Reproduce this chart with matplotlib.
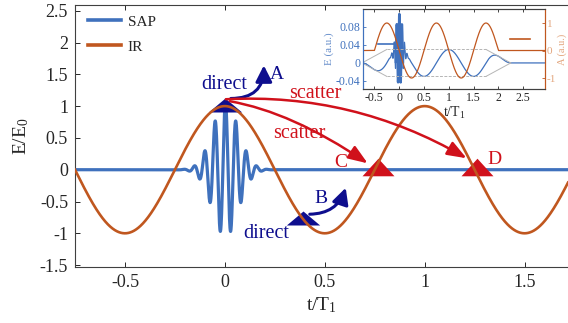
import numpy as np
import matplotlib
matplotlib.use('Agg')
import matplotlib.pyplot as plt
from matplotlib.patches import FancyArrowPatch, ArrowStyle
from matplotlib.ticker import FuncFormatter, FixedLocator

plt.rcParams['font.family'] = ['Liberation Serif', 'DejaVu Serif']
plt.rcParams['mathtext.fontset'] = 'custom'
plt.rcParams['mathtext.rm'] = 'Liberation Serif'
plt.rcParams['mathtext.it'] = 'Liberation Serif:italic'
plt.rcParams['axes.unicode_minus'] = False

# ---------------- data ----------------
series_labels = ['SAP', 'IR']
main_xlim = [-0.75, 1.7175]
main_ylim = [-1.53, 2.59]
main_xticks = [-0.5, 0, 0.5, 1, 1.5]
main_yticks = [-1.5, -1, -0.5, 0, 0.5, 1, 1.5, 2, 2.5]

# IR field (cosine, in units of E0, time in T1)
ir_amplitude = 1.0
ir_period = 1.0
# SAP pulse parameters
sap_amplitude = 1.05
sap_center = 0.003
sap_width = 0.092
sap_carrier_period = 0.052

# trajectory markers
direct_marker_t = [0.0, 0.39]
direct_marker_e = [1.02, -0.765]
scatter_marker_t = [0.765, 1.26]
scatter_marker_e = [0.04, 0.04]

# text labels
label_texts = ['direct', 'A', 'direct', 'B', 'scatter', 'scatter', 'C', 'D']
label_t = [-0.005, 0.258, 0.2075, 0.48, 0.4525, 0.375, 0.58, 1.35]
label_e = [1.266, 1.42, -1.077, -0.52, 1.12, 0.495, 0.05, 0.086]
label_kind = ['direct', 'direct', 'direct', 'direct', 'scatter', 'scatter', 'scatter', 'scatter']

# arrows (start -> end, connection)
arrow_start_t = [0.03, 0.425, 0.025, 0.005]
arrow_start_e = [1.12, -0.70, 1.077, 1.108]
arrow_end_t = [0.195, 0.605, 0.715, 1.21]
arrow_end_e = [1.64, -0.285, 0.10, 0.18]
arrow_connection = ['arc3,rad=0.5', 'arc3,rad=0.35',
                    'angle3,angleA=-10,angleB=-34', 'angle3,angleA=3,angleB=-30']
arrow_kind = ['direct', 'direct', 'scatter', 'scatter']

# inset
inset_xlim = [-0.73, 2.94]
inset_e_ylim = [-0.058, 0.12]
inset_a_ylim = [-1.4, 1.51]
inset_xticks = [-0.5, 0, 0.5, 1, 1.5, 2, 2.5]
inset_e_ticks = [-0.04, 0, 0.04, 0.08]
inset_a_ticks = [-1, 0, 1]
env_t = [-0.75, -0.25, 1.75, 2.25]
env_v = [0.0, 1.0, 1.0, 0.0]
inset_ir_e_scale = 0.03
inset_sap_scale = 0.075
inset_sap_halfspan = 0.07
a_field_start = -0.5
a_field_end = 2.0
a_field_amplitude = 1.0
inset_key_blue_x = [0.082, 0.176]
inset_key_blue_y = [0.5625, 0.5625]
inset_key_orange_x = [0.808, 0.918]
inset_key_orange_y = [0.625, 0.625]

# ---------------- styles ----------------
C_SAP = '#3F71BD'
C_IR = '#C0571F'
C_RED = '#D0111B'
C_NAVY = '#0E0E8E'
C_TXT = '#262626'
C_A_PALE = '#E3A67E'
kind_color = {'direct': C_NAVY, 'scatter': C_RED}


def fmt(v, pos=None):
    return '%g' % v


def sap(t):
    return sap_amplitude * np.exp(-((t - sap_center) / sap_width) ** 2) * \
        np.cos(2 * np.pi * (t - sap_center) / sap_carrier_period)


def ir(t):
    return ir_amplitude * np.cos(2 * np.pi * t / ir_period)


fig = plt.figure(figsize=(5.68, 3.23), dpi=100)
W, H = 568.0, 323.0
ax = fig.add_axes([75 / W, 1 - 267 / H, 1 - 75 / W, 262 / H])

t = np.linspace(main_xlim[0], main_xlim[1], 6000)
l_sap, = ax.plot(t, sap(t), color=C_SAP, lw=2.3, zorder=2, solid_joinstyle='round')
l_ir, = ax.plot(t, ir(t), color=C_IR, lw=1.9, zorder=4)

tri_d = [(-1, -0.42), (1, -0.42), (0, 0.42), (-1, -0.42)]
tri_s = [(-1, -0.55), (1, -0.55), (0, 0.55), (-1, -0.55)]
ax.plot(direct_marker_t, direct_marker_e, ls='none', marker=tri_d, ms=24,
        color=C_NAVY, mec='none', zorder=3)
ax.plot(scatter_marker_t, scatter_marker_e, ls='none', marker=tri_s, ms=23,
        color=C_RED, mec='none', zorder=3)

for s, x, y, k in zip(label_texts, label_t, label_e, label_kind):
    fs = 14.5 if len(s) > 1 else 14
    ax.text(x, y, s, color=kind_color[k], fontsize=fs, ha='center', va='baseline', zorder=6)

for x0, y0, x1, y1, cs, k in zip(arrow_start_t, arrow_start_e, arrow_end_t, arrow_end_e,
                                 arrow_connection, arrow_kind):
    if k == 'direct':
        style = ArrowStyle('-|>', head_length=0.75, head_width=0.38)
        lw = 2.2
    else:
        style = ArrowStyle('-|>', head_length=0.9, head_width=0.34)
        lw = 1.8
    arr = FancyArrowPatch((x0, y0), (x1, y1), connectionstyle=cs,
                          arrowstyle=style, mutation_scale=13, color=kind_color[k],
                          lw=lw, shrinkA=0, shrinkB=0, zorder=5)
    ax.add_patch(arr)

ax.set_xlim(main_xlim)
ax.set_ylim(main_ylim)
ax.xaxis.set_major_locator(FixedLocator(main_xticks))
ax.yaxis.set_major_locator(FixedLocator(main_yticks))
ax.xaxis.set_major_formatter(FuncFormatter(fmt))
ax.yaxis.set_major_formatter(FuncFormatter(fmt))
ax.tick_params(direction='in', length=3.5, width=0.7, top=True, right=False,
               labelsize=13, colors=C_TXT, pad=5)
for sp in ['left', 'bottom', 'top']:
    ax.spines[sp].set_color('#404040')
    ax.spines[sp].set_linewidth(0.8)
ax.spines['right'].set_visible(False)
ax.set_xlabel(r't/T$_1$', fontsize=14, color=C_TXT, labelpad=3)
ax.set_ylabel(r'E/E$_0$', fontsize=14, color=C_TXT, labelpad=6)

leg = ax.legend([l_sap, l_ir], series_labels, loc='upper left', bbox_to_anchor=(0.026, 0.962),
                frameon=False, fontsize=11, handlelength=2.2, handletextpad=0.4,
                labelspacing=0.75, borderaxespad=0, borderpad=0)
for lh in leg.get_lines():
    lh.set_linewidth(2.6)
for tx in leg.get_texts():
    tx.set_color(C_TXT)

# ---------------- inset ----------------
axi = fig.add_axes([363 / W, 1 - 89 / H, 182 / W, 80 / H])
axr = axi.twinx()
ti = np.linspace(inset_xlim[0], inset_xlim[1], 30000)
env = np.interp(ti, env_t, env_v)
e_in = inset_ir_e_scale * env * np.cos(2 * np.pi * ti) + inset_sap_scale * sap(ti)
axi.plot(ti, e_in, color=C_SAP, lw=0.9)
core = np.abs(ti - sap_center) < inset_sap_halfspan
axi.plot(ti[core], e_in[core], color=C_SAP, lw=1.8)
# envelope guide
ev = np.array(env_v) * inset_ir_e_scale
for sgn in (1, -1):
    axi.plot(env_t[:2], sgn * ev[:2], color='#b5b5b5', lw=0.7)
    axi.plot(env_t[1:3], sgn * ev[1:3], color='#b5b5b5', lw=0.7, ls=(0, (3, 1.5)))
    axi.plot(env_t[2:], sgn * ev[2:], color='#b5b5b5', lw=0.7)
a_field = np.where((ti >= a_field_start) & (ti <= a_field_end),
                   -a_field_amplitude * np.sin(2 * np.pi * ti), 0.0)
axr.plot(ti, a_field, color=C_IR, lw=0.9)
axi.plot(inset_key_blue_x, inset_key_blue_y, color=C_SAP, lw=1.2, transform=axi.transAxes)
axr.plot(inset_key_orange_x, inset_key_orange_y, color=C_IR, lw=1.2, transform=axr.transAxes)

axi.set_xlim(inset_xlim)
axi.set_ylim(inset_e_ylim)
axr.set_ylim(inset_a_ylim)
axi.xaxis.set_major_locator(FixedLocator(inset_xticks))
axi.yaxis.set_major_locator(FixedLocator(inset_e_ticks))
axr.yaxis.set_major_locator(FixedLocator(inset_a_ticks))
for a in (axi, axr):
    a.xaxis.set_major_formatter(FuncFormatter(fmt))
    a.yaxis.set_major_formatter(FuncFormatter(fmt))
axi.tick_params(axis='x', direction='in', length=2, width=0.6, top=True, labelsize=8.5,
                colors=C_TXT, pad=2)
axi.tick_params(axis='y', direction='in', length=2, width=0.6, labelsize=8.5,
                colors=C_SAP, pad=2)
axr.tick_params(axis='y', direction='in', length=2, width=0.6, labelsize=8,
                colors=C_A_PALE, pad=1.5)
axr.tick_params(axis='y', color=C_IR)
axi.spines['left'].set_color(C_SAP)
axr.spines['left'].set_color(C_SAP)
axr.spines['right'].set_color(C_IR)
axi.spines['right'].set_color(C_IR)
for a in (axi, axr):
    a.spines['top'].set_color('#404040')
    a.spines['bottom'].set_color('#404040')
    for sp in a.spines.values():
        sp.set_linewidth(0.8)
axi.set_xlabel(r't/T$_1$', fontsize=10, color=C_TXT, labelpad=1)
axi.set_ylabel('E (a.u.)', fontsize=8, color=C_SAP, labelpad=1, alpha=0.8)
axr.set_ylabel('A (a.u.)', fontsize=7.5, color=C_A_PALE, labelpad=0.5)

fig.savefig('out.png', dpi=100)
